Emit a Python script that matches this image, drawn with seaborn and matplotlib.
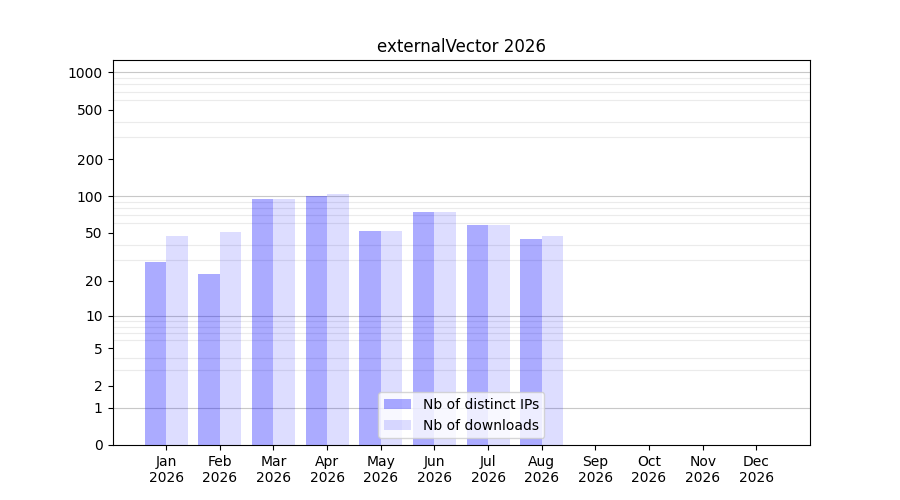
import numpy as np
import pandas as pd
import seaborn as sns
import matplotlib
import matplotlib.pyplot as plt
from matplotlib.ticker import FixedLocator, NullFormatter
matplotlib.use('Agg')

# données
months = ['Jan', 'Feb', 'Mar', 'Apr', 'May', 'Jun', 'Jul', 'Aug', 'Sep', 'Oct', 'Nov', 'Dec']
year = '2026'
distinct_ips = [29, 23, 94, 100, 52, 74, 58, 45]
downloads = [47, 51, 95, 104, 52, 74, 58, 47]
series = ['Nb of distinct IPs', 'Nb of downloads']
yticks = [0, 1, 2, 5, 10, 20, 50, 100, 200, 500, 1000]


def main():
    n = len(distinct_ips)
    df = pd.DataFrame({
        'month': months[:n] * 2,
        'serie': [series[0]] * n + [series[1]] * n,
        'value': distinct_ips + downloads,
    })

    fig, ax = plt.subplots(figsize=(9, 5), dpi=100)

    # échelle log(1 + x)
    ax.set_yscale('function', functions=(lambda v: np.log10(1 + np.clip(v, 0, None)),
                                         lambda v: 10 ** v - 1))

    sns.barplot(data=df, x='month', y='value', hue='serie', order=months,
                hue_order=series, palette=['blue', 'blue'], saturation=1,
                width=0.8, errorbar=None, legend=False, ax=ax, zorder=3)
    for cont, alpha in zip(ax.containers, [0.33, 0.135]):
        for p in cont:
            p.set_alpha(alpha)
            p.set_linewidth(0)

    ax.set_xlim(-1, 12)
    ax.set_ylim(0, 1260)
    ax.set_xticks(range(len(months)))
    ax.set_xticklabels([f'{m}\n{year}' for m in months])

    ax.yaxis.set_major_locator(FixedLocator(yticks))
    ax.set_yticklabels([str(t) for t in yticks])
    minors = [m * 10 ** d for d in range(4) for m in range(1, 10) if m * 10 ** d <= 1260]
    ax.yaxis.set_minor_locator(FixedLocator(minors))
    ax.yaxis.set_minor_formatter(NullFormatter())
    ax.tick_params(axis='y', which='minor', length=0)
    ax.grid(False)
    ax.grid(True, which='minor', axis='y', color='#ebebeb', linewidth=0.8, zorder=0)
    for d in [1, 10, 100, 1000]:
        ax.axhline(d, color='#c8c8c8', linewidth=0.8, zorder=1)
    ax.set_axisbelow(True)

    ax.set_xlabel('')
    ax.set_ylabel('')
    ax.set_title('externalVector 2026')
    ax.legend(ax.containers, series, loc='lower center')

    fig.savefig('out.png')
    plt.close(fig)


if __name__ == '__main__':
    main()
